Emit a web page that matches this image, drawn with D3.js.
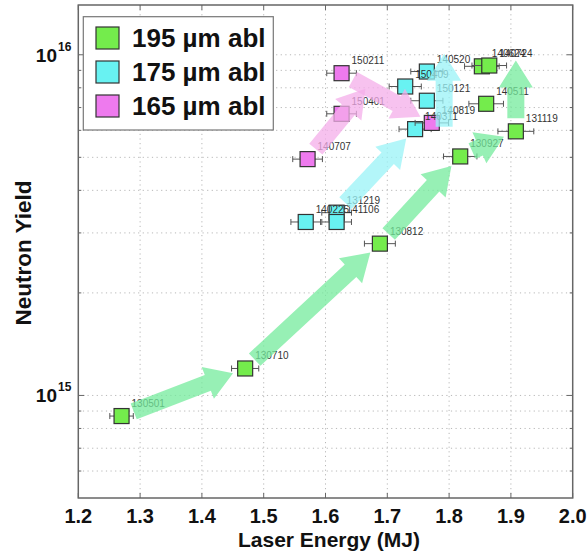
<!DOCTYPE html>
<html>
<head>
<meta charset="utf-8">
<script src="https://cdn.jsdelivr.net/npm/d3@7"></script>
<style>
  body { margin: 0; background: #fff; }
  text { font-family: "Liberation Sans", Arial, Helvetica, sans-serif; }
</style>
</head>
<body>
<div id="chart"></div>
<script>
// legend / series names
const seriesNames = ["195 µm abl", "175 µm abl", "165 µm abl"];
const seriesColors = ["#74ec4c", "#68f2f2", "#ee7aee"];
const arrowColors = ["#74eb9c", "#9af3f7", "#f4aee9"];

// 195 um ablator shots
const shots195 = ["130501", "130710", "130812", "130927", "131119", "140511", "140624", "140724"];
const energy195 = [1.27, 1.47, 1.688, 1.818, 1.908, 1.86, 1.853, 1.865];
const yield195 = [8.7e14, 1.2e15, 2.79e15, 5.03e15, 5.96e15, 7.18e15, 9.25e15, 9.3e15];
const err195 = [0.019, 0.022, 0.025, 0.027, 0.029, 0.028, 0.028, 0.028];

// 175 um ablator shots
const shots175 = ["131219", "140225", "141106", "140311", "150121", "150409", "140520"];
const energy175 = [1.618, 1.568, 1.618, 1.745, 1.764, 1.729, 1.764];
const yield175 = [3.44e15, 3.23e15, 3.23e15, 6.05e15, 7.33e15, 8.07e15, 8.93e15];
const err175 = [0.024, 0.024, 0.024, 0.026, 0.026, 0.026, 0.026];

// 165 um ablator shots
const shots165 = ["140707", "150401", "150211", "140819"];
const energy165 = [1.571, 1.626, 1.626, 1.772];
const yield165 = [4.94e15, 6.71e15, 8.83e15, 6.31e15];
const err165 = [0.024, 0.024, 0.024, 0.027];

// arrows: [x1, y1, x2, y2] in data units
const arrows195 = [
  [1.27, 8.7e14, 1.47, 1.2e15],
  [1.47, 1.2e15, 1.688, 2.79e15],
  [1.688, 2.79e15, 1.818, 5.03e15],
  [1.818, 5.03e15, 1.908, 5.96e15],
  [1.908, 5.96e15, 1.908, 1.05e16]
];
const arrows175 = [
  [1.618, 3.44e15, 1.745, 6.05e15],
  [1.792, 5.63e15, 1.792, 1.1e16]
];
const arrows165 = [
  [1.571, 4.94e15, 1.678, 8.5e15],
  [1.626, 8.83e15, 1.772, 6.31e15]
];

const xTicks = [1.2, 1.3, 1.4, 1.5, 1.6, 1.7, 1.8, 1.9, 2.0];
const yMajor = [1e15, 1e16];
const yMinor = [6e14, 7e14, 8e14, 9e14, 1e15, 2e15, 3e15, 4e15, 5e15, 6e15, 7e15, 8e15, 9e15, 1e16];

const width = 588, height = 554;
const pl = 78.3, pr = 572.7, pt = 5, pb = 498;

const svg = d3.select("#chart").append("svg")
  .attr("width", width).attr("height", height);

const x = d3.scaleLinear().domain([1.2, 2.0]).range([pl, pr]);
const y = d3.scaleLog().domain([5e14, 1.4e16]).range([pb, pt]);

// grid
const grid = svg.append("g").attr("stroke", "#b8b8b8").attr("stroke-width", 1)
  .attr("stroke-dasharray", "1.2,3.4");
grid.selectAll(".gx").data(xTicks.slice(1, -1)).enter().append("line")
  .attr("x1", d => x(d)).attr("x2", d => x(d)).attr("y1", pt).attr("y2", pb);
grid.selectAll(".gy").data(yMinor).enter().append("line")
  .attr("x1", pl).attr("x2", pr).attr("y1", d => y(d)).attr("y2", d => y(d));

// ticks (inward, MATLAB style)
const ticks = svg.append("g").attr("stroke", "#666").attr("stroke-width", 1);
xTicks.forEach(t => {
  ticks.append("line").attr("x1", x(t)).attr("x2", x(t)).attr("y1", pb).attr("y2", pb - 5);
  ticks.append("line").attr("x1", x(t)).attr("x2", x(t)).attr("y1", pt).attr("y2", pt + 5);
});
yMinor.forEach(t => {
  const len = yMajor.includes(t) ? 6 : 3;
  ticks.append("line").attr("x1", pl).attr("x2", pl + len).attr("y1", y(t)).attr("y2", y(t));
  ticks.append("line").attr("x1", pr).attr("x2", pr - len).attr("y1", y(t)).attr("y2", y(t));
});

// frame
svg.append("rect").attr("x", pl).attr("y", pt)
  .attr("width", pr - pl).attr("height", pb - pt)
  .attr("fill", "none").attr("stroke", "#666").attr("stroke-width", 1.5);

// tick labels
svg.selectAll(".xl").data(xTicks).enter().append("text")
  .attr("x", d => x(d)).attr("y", pb + 25)
  .attr("text-anchor", "middle").attr("font-size", 20).attr("font-weight", "bold")
  .attr("fill", "#111")
  .text(d => d.toFixed(1));

yMajor.forEach(t => {
  svg.append("text").attr("x", 57).attr("y", y(t) + 7)
    .attr("text-anchor", "end").attr("font-size", 19).attr("font-weight", "bold").attr("fill", "#111")
    .text("10");
  svg.append("text").attr("x", 58).attr("y", y(t) - 4)
    .attr("font-size", 12).attr("font-weight", "bold").attr("fill", "#111")
    .text(String(Math.round(Math.log10(t))));
});

// axis titles
svg.append("text").attr("x", 329).attr("y", 547)
  .attr("text-anchor", "middle").attr("font-size", 21).attr("font-weight", "bold")
  .attr("fill", "#111").text("Laser Energy (MJ)");
svg.append("text").attr("transform", "translate(31,253) rotate(-90)")
  .attr("text-anchor", "middle").attr("font-size", 22.5).attr("font-weight", "bold")
  .attr("fill", "#111").text("Neutron Yield");

// series
const groups = [
  { shots: shots195, e: energy195, yv: yield195, err: err195 },
  { shots: shots175, e: energy175, yv: yield175, err: err175 },
  { shots: shots165, e: energy165, yv: yield165, err: err165 }
];

const marks = svg.append("g");
const labels = svg.append("g");
groups.forEach((g, si) => {
  g.shots.forEach((s, i) => {
    const cx = x(g.e[i]), cy = y(g.yv[i]);
    const x0 = x(g.e[i] - g.err[i]), x1 = x(g.e[i] + g.err[i]);
    marks.append("line").attr("x1", x0).attr("x2", x1).attr("y1", cy).attr("y2", cy)
      .attr("stroke", "#555").attr("stroke-width", 1);
    [x0, x1].forEach(xx => marks.append("line").attr("x1", xx).attr("x2", xx)
      .attr("y1", cy - 3).attr("y2", cy + 3).attr("stroke", "#555").attr("stroke-width", 1));
    marks.append("rect").attr("x", cx - 7.5).attr("y", cy - 7.5).attr("width", 15).attr("height", 15)
      .attr("fill", seriesColors[si]).attr("stroke", "#333").attr("stroke-width", 1.2);
    labels.append("text").attr("x", cx + 10).attr("y", cy - 9)
      .attr("font-size", 10).attr("fill", "#333").text(s);
  });
});

// fat arrows
function arrowPath(x1, y1, x2, y2) {
  const gap = 13, shaft = 17, headW = 34, headL = 27;
  const dx = x2 - x1, dy = y2 - y1, L = Math.hypot(dx, dy);
  const ux = dx / L, uy = dy / L, px = -uy, py = ux;
  const sx = x1 + ux * gap, sy = y1 + uy * gap;
  const tx = x2 - ux * gap, ty = y2 - uy * gap;
  const bx = tx - ux * headL, by = ty - uy * headL;
  const pts = [
    [sx + px * shaft / 2, sy + py * shaft / 2],
    [bx + px * shaft / 2, by + py * shaft / 2],
    [bx + px * headW / 2, by + py * headW / 2],
    [tx, ty],
    [bx - px * headW / 2, by - py * headW / 2],
    [bx - px * shaft / 2, by - py * shaft / 2],
    [sx - px * shaft / 2, sy - py * shaft / 2]
  ];
  return d3.line()(pts) + "Z";
}
const arrowSets = [arrows195, arrows175, arrows165];
const arrowG = svg.append("g");
arrowSets.forEach((set, si) => {
  arrowG.selectAll(null).data(set).enter().append("path")
    .attr("d", a => arrowPath(x(a[0]), y(a[1]), x(a[2]), y(a[3])))
    .attr("fill", arrowColors[si]).attr("fill-opacity", 0.75);
});

// legend
const lg = svg.append("g");
lg.append("rect").attr("x", 83.3).attr("y", 16.7).attr("width", 190).attr("height", 113.3)
  .attr("fill", "#fff").attr("stroke", "#777").attr("stroke-width", 1.2);
seriesNames.forEach((n, i) => {
  const cy = 38 + i * 34;
  lg.append("rect").attr("x", 96).attr("y", cy - 11).attr("width", 23).attr("height", 22)
    .attr("fill", seriesColors[i]).attr("stroke", "#333").attr("stroke-width", 1.2);
  lg.append("text").attr("x", 132).attr("y", cy + 9)
    .attr("font-size", 26).attr("font-weight", "bold").attr("fill", "#111").text(n);
});
</script>
</body>
</html>
